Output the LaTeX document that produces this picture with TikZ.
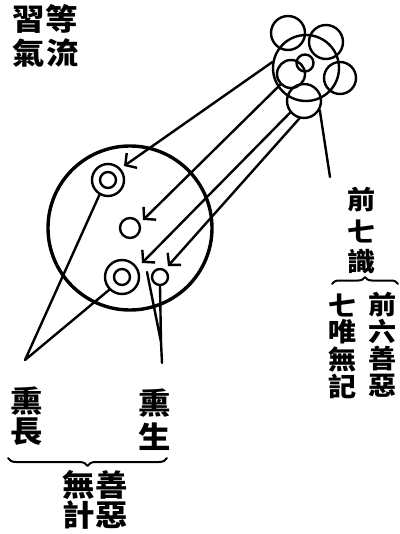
\documentclass[tikz,border=0pt]{standalone}
\usepackage{fontspec}
\usepackage{graphicx}
\newfontfamily\cjk{Noto Sans CJK TC}
\usetikzlibrary{arrows.meta,decorations.pathreplacing}
\newcommand\zi[1]{\scalebox{1.08}[1]{#1}}
\begin{document}
\begin{tikzpicture}[x=1pt,y=-1pt, line width=2.4pt, line cap=round, line join=round,
  ch/.style={font=\cjk\bfseries\fontsize{30}{30}\selectfont, inner sep=0pt},
  chs/.style={font=\cjk\bfseries\fontsize{26}{26}\selectfont, inner sep=0pt},
  ring/.style={circle, draw, inner sep=0pt, line width=2.4pt},
  arr/.style={-{Straight Barb[length=8pt,width=18pt]}},
  brc/.style={decorate, decoration={brace, amplitude=7pt}, line width=2pt}]
\useasboundingbox (0,0) rectangle (399,534);

% large circle and inner circles
\node[ring, line width=3.4pt, minimum size=164pt] (big) at (130,228) {};
\node[ring, minimum size=32pt] (ulo) at (108,180) {};
\node[ring, minimum size=16pt] (uli) at (108,180) {};
\node[ring, minimum size=20pt] (mid) at (130,228) {};
\node[ring, minimum size=34pt] (llo) at (122,277) {};
\node[ring, minimum size=16pt] (lli) at (122,277) {};
\node[ring, minimum size=16pt] (lr) at (160,277) {};

% cluster
\node[ring, minimum size=66pt] (cm) at (306,68) {};
\node[ring, minimum size=34pt] (p1) at (288,33) {};
\node[ring, minimum size=34pt] (p2) at (326,42) {};
\node[ring, minimum size=32pt] (p3) at (340,78) {};
\node[ring, minimum size=34pt] (p4) at (304,101) {};
\node[ring, minimum size=28pt] (p5) at (291,74) {};
\node[ring, minimum size=17pt] (pc) at (305,63) {};

% arrow tips
\coordinate (tA) at (124,166);
\coordinate (tB) at (143,220);
\coordinate (tC) at (142,263);
\coordinate (tD) at (168,266);
\draw[arr] (cm.170) -- (tA);
\draw[arr] (p5.225) -- (tB);
\draw[arr] (p4.220) -- (tC);
\draw[arr] (p4.255) -- (tD);

% pointer to 前七識
\coordinate (qe) at (330,177);
\draw (p4.330) -- (qe);

% lower-left converging lines
\coordinate (lt) at (25,360);
\draw (ulo.240) -- (lt) -- (llo.225);

% lower-right converging lines
\coordinate (rs) at (147,272);
\coordinate (rj) at (161,342);
\coordinate (re) at (162,363);
\draw (rs) -- (rj) -- (lr.south);
\draw (rj) -- (re);

% texts top-left
\node[ch] (x1) at (62,19) {\zi{等}};
\node[ch] (x2) at (63,53) {\zi{流}};
\node[ch] (x3) at (29,20) {\zi{習}};
\node[ch] (x4) at (29,53) {\zi{氣}};

% right texts
\node[chs] (r1) at (362,200) {\zi{前}};
\node[chs] (r2) at (362,231) {\zi{七}};
\node[chs] (r3) at (362,262) {\zi{識}};
\coordinate (b1a) at (332,284);
\coordinate (b1b) at (398,284);
\draw[brc] (b1a) -- (b1b);
\node[chs] (s1) at (343,305) {\zi{七}};
\node[chs] (s2) at (343,332) {\zi{唯}};
\node[chs] (s3) at (343,359) {\zi{無}};
\node[chs] (s4) at (343,386) {\zi{記}};
\node[chs] (u1) at (383,305) {\zi{前}};
\node[chs] (u2) at (383,332) {\zi{六}};
\node[chs] (u3) at (383,359) {\zi{善}};
\node[chs] (u4) at (383,386) {\zi{惡}};

% bottom texts
\node[ch] (h1) at (27,401) {\zi{熏}};
\node[ch] (h2) at (27,432) {\zi{長}};
\node[ch] (g1) at (155,403) {\zi{熏}};
\node[ch] (g2) at (155,437) {\zi{生}};
\coordinate (b2a) at (167,458);
\coordinate (b2b) at (8,458);
\draw[brc, decoration={brace, amplitude=8pt}] (b2a) -- (b2b);
\node[ch] (w1) at (79,485) {\zi{無}};
\node[ch] (w2) at (79,515) {\zi{計}};
\node[ch] (v1) at (112,485) {\zi{善}};
\node[ch] (v2) at (112,515) {\zi{惡}};
\end{tikzpicture}
\end{document}
